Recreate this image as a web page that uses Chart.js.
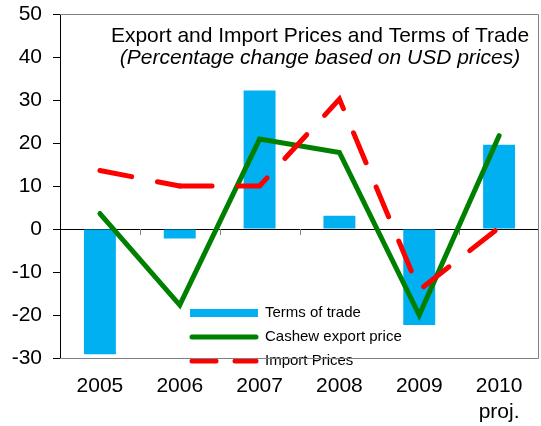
<!DOCTYPE html>
<html>
<head>
<meta charset="utf-8">
<script src="https://cdn.jsdelivr.net/npm/chart.js@4"></script>
<style>
html,body{margin:0;padding:0;background:#fff;}
#wrap{width:541px;height:426px;}
</style>
</head>
<body>
<div id="wrap"><canvas id="c" width="541" height="426"></canvas></div>
<script>
const categories = [["2005"], ["2006"], ["2007"], ["2008"], ["2009"], ["2010", "proj."]];
const termsOfTrade = [-29.1, -2.2, 32.2, 3.1, -22.3, 19.6];
const cashewExportPrice = [3.6, -17.7, 20.9, 17.8, -20.0, 21.7];
const importPrices = [13.6, 10.0, 10.0, 30.2, -14.2, 0.3];
const seriesNames = ["Terms of trade", "Cashew export price", "Import Prices"];
const titleLines = ["Export and Import Prices and Terms of Trade", "(Percentage change based on USD prices)"];
const yTicks = { min: -30, max: 50, step: 10 };

const FONT = '"Liberation Sans", Arial, sans-serif';
const BLUE = '#00B0F0', GREEN = '#008000', RED = '#FF0000', GRAY = '#808080';
const DASH = [32.3, 26.3];
const DASH_PERIOD = DASH[0] + DASH[1];

const frame = {
  id: 'frame',
  beforeDatasetsDraw(chart) {
    const {ctx, chartArea: a, scales: {x, y}} = chart;
    ctx.save();
    const y0 = y.getPixelForValue(0);
    ctx.strokeStyle = GRAY; ctx.lineWidth = 1;
    const half = (x.getPixelForValue(1) - x.getPixelForValue(0)) / 2;
    for (let i = 0; i < categories.length - 1; i++) {
      const px = Math.round(x.getPixelForValue(i) + half) + 0.5;
      ctx.beginPath(); ctx.moveTo(px, y0); ctx.lineTo(px, y0 + 6); ctx.stroke();
    }
    ctx.restore();
  },
  afterDatasetsDraw(chart) {
    const {ctx, chartArea: a} = chart;
    ctx.save();
    ctx.fillStyle = '#000';
    ctx.textAlign = 'center'; ctx.textBaseline = 'middle';
    const cx = 320;
    ctx.font = '21px ' + FONT;
    ctx.fillText(titleLines[0], cx, 36);
    ctx.font = 'italic 21px ' + FONT;
    ctx.fillText(titleLines[1], cx, 58);
    const lx = 190, lw = 68, tx = 265;
    const rows = [313, 337, 361];
    ctx.textAlign = 'left'; ctx.textBaseline = 'middle';
    ctx.font = '15px ' + FONT;
    ctx.fillStyle = BLUE;
    ctx.fillRect(lx, rows[0] - 4, lw, 8);
    ctx.lineWidth = 5; ctx.lineCap = 'round';
    ctx.strokeStyle = GREEN;
    ctx.beginPath(); ctx.moveTo(lx + 2, rows[1]); ctx.lineTo(lx + lw - 2, rows[1]); ctx.stroke();
    ctx.strokeStyle = RED;
    ctx.beginPath(); ctx.moveTo(lx + 2, rows[2]); ctx.lineTo(lx + 26, rows[2]); ctx.stroke();
    ctx.beginPath(); ctx.moveTo(lx + 45, rows[2]); ctx.lineTo(lx + lw - 2, rows[2]); ctx.stroke();
    ctx.fillStyle = '#000';
    seriesNames.forEach((n, i) => ctx.fillText(n, tx, rows[i]));
    ctx.strokeStyle = GRAY; ctx.lineWidth = 1; ctx.lineCap = 'butt';
    ctx.beginPath();
    ctx.moveTo(a.left, Math.round(a.top) + 0.5);
    ctx.lineTo(Math.round(a.right) - 0.5, Math.round(a.top) + 0.5);
    ctx.lineTo(Math.round(a.right) - 0.5, Math.round(a.bottom) + 0.5);
    ctx.lineTo(a.left, Math.round(a.bottom) + 0.5);
    ctx.stroke();
    ctx.restore();
  }
};

new Chart(document.getElementById('c'), {
  data: {
    labels: categories,
    datasets: [
      { type: 'line', label: seriesNames[2], data: importPrices, borderColor: RED, borderWidth: 5,
        borderDash: DASH, borderCapStyle: 'round', pointRadius: 0, tension: 0, order: 1,
        // dash pattern restarts at the 2006 point (as in the original)
        segment: { borderDashOffset: c => c.p0DataIndex === 0 ? 0 : DASH_PERIOD } },
      { type: 'line', label: seriesNames[1], data: cashewExportPrice, borderColor: GREEN, borderWidth: 5,
        borderCapStyle: 'round', pointRadius: 0, tension: 0, order: 2 },
      { type: 'bar', label: seriesNames[0], data: termsOfTrade, backgroundColor: BLUE,
        categoryPercentage: 1, barPercentage: 0.4, order: 3 }
    ]
  },
  options: {
    responsive: false,
    animation: false,
    layout: { padding: { top: 14, right: 2, left: 0, bottom: 0 } },
    plugins: { legend: { display: false }, tooltip: { enabled: false } },
    scales: {
      x: {
        offset: true,
        grid: { display: false, drawTicks: false },
        border: { display: false },
        ticks: { color: '#000', font: { family: FONT, size: 21 }, padding: 16, maxRotation: 0, autoSkip: false },
        afterFit(s) { s.height = 68; s.paddingLeft = 0; s.paddingRight = 0; }
      },
      y: {
        min: yTicks.min, max: yTicks.max,
        grid: {
          color: c => (c.tick && c.tick.value === 0) ? '#000' : 'rgba(0,0,0,0)',
          tickColor: '#000', tickLength: 7, drawTicks: true
        },
        border: { display: true, color: '#000', width: 1 },
        ticks: { stepSize: yTicks.step, color: '#000', font: { family: FONT, size: 21 }, padding: 11 },
        afterFit(s) { s.width = 60; s.paddingTop = 0; s.paddingBottom = 0; }
      }
    }
  },
  plugins: [frame]
});
</script>
</body>
</html>
